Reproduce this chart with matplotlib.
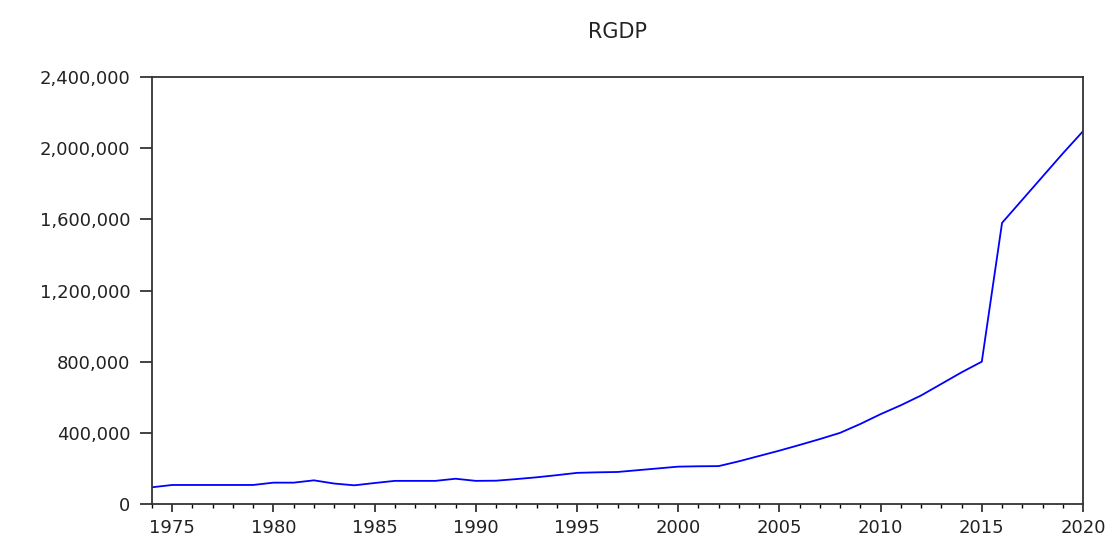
import matplotlib
matplotlib.use("Agg")
import matplotlib.pyplot as plt
from matplotlib.ticker import FuncFormatter, MultipleLocator

years = list(range(1974, 2021))
rgdp = [94000, 107000, 107000, 107000, 107000, 107000, 120000, 120000, 133000, 115000,
        105000, 118000, 130000, 130000, 130000, 142000, 130000, 131000, 140000, 150000,
        162000, 175000, 178000, 180000, 190000, 200000, 210000, 212000, 213000, 240000,
        270000, 300000, 332000, 365000, 400000, 450000, 505000, 555000, 610000, 675000,
        740000, 800000, 1580000, 1710000, 1840000, 1970000, 2095000]
title = "RGDP"

plt.rcParams['font.family'] = ['DejaVu Sans']
fig = plt.figure(figsize=(11.13, 5.39), dpi=100)
ax = fig.add_axes([152/1113, 35/539, (1083-152)/1113, (504-77)/539])
ax.plot(years, rgdp, color='#0000ff', linewidth=1.3)
ax.set_xlim(1974, 2020)
ax.set_ylim(0, 2400000)
ax.xaxis.set_major_locator(MultipleLocator(5))
ax.xaxis.set_minor_locator(MultipleLocator(1))
ax.yaxis.set_major_locator(MultipleLocator(400000))
ax.yaxis.set_major_formatter(FuncFormatter(lambda v, p: f"{int(v):,}"))
ax.tick_params(axis='x', which='major', direction='out', length=6, width=1.2, pad=5, labelsize=13, colors='#222222')
ax.tick_params(axis='x', which='minor', direction='out', length=3, width=1.0)
ax.tick_params(axis='y', which='major', direction='out', length=8.5, width=1.2, pad=7, labelsize=13, colors='#222222')
for s in ax.spines.values():
    s.set_linewidth(1.3)
    s.set_color('#333333')
ax.set_title(title, fontsize=15, pad=28, color='#222222')
fig.savefig("out.png", dpi=100)
